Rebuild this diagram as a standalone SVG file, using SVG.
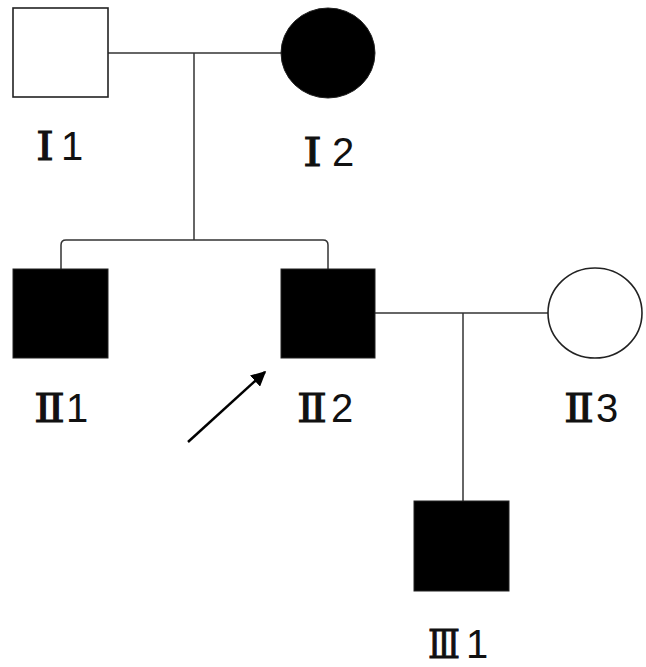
<svg xmlns="http://www.w3.org/2000/svg" width="646" height="667" viewBox="0 0 646 667">
<style>
.line{fill:none;stroke:#333;stroke-width:1.5}
.aff{fill:#000;stroke:#222;stroke-width:1}
.un{fill:#fff;stroke:#222;stroke-width:1.6}
.lbl{font-family:"Liberation Sans",Arial,sans-serif;font-size:40px;fill:#111}
.rn{font-family:"DejaVu Serif","Liberation Serif",serif;font-size:40px;fill:#111;stroke:#111;stroke-width:1}
</style>
<defs>
<marker id="ah" viewBox="0 0 10 10" refX="9" refY="5" markerWidth="6" markerHeight="6" orient="auto" markerUnits="strokeWidth">
<path d="M0,0 L10,5 L0,10 Z" fill="#000"/>
</marker>
</defs>
<rect width="646" height="667" fill="#fff"/>
<g id="connectors">
<path class="line" d="M108,53 H281"/>
<path class="line" d="M194,53 V240"/>
<path class="line" d="M61,269 V245 Q61,240 66,240 H323 Q328,240 328,245 V269"/>
<path class="line" d="M375,313 H548"/>
<path class="line" d="M463,313 V501"/>
<line x1="188" y1="442" x2="265" y2="372" stroke="#000" stroke-width="2.5" marker-end="url(#ah)"/>
</g>
<g id="I1">
<rect class="un" x="13" y="8" width="95" height="89"/>
<text class="rn" x="36" y="160" font-size="37" textLength="18" lengthAdjust="spacingAndGlyphs">Ⅰ</text>
<text class="lbl" x="61" y="160" font-size="38">1</text>
</g>
<g id="I2">
<ellipse class="aff" cx="328" cy="53" rx="47" ry="45"/>
<text class="rn" x="303" y="166" font-size="37" textLength="19" lengthAdjust="spacingAndGlyphs">Ⅰ</text>
<text class="lbl" x="332" y="166" font-size="38">2</text>
</g>
<g id="II1">
<rect class="aff" x="13" y="269" width="95" height="89"/>
<text class="rn" x="34" y="422" textLength="31" lengthAdjust="spacingAndGlyphs">Ⅱ</text>
<text class="lbl" x="66" y="422">1</text>
</g>
<g id="II2">
<rect class="aff" x="281" y="269" width="94" height="89"/>
<text class="rn" x="297" y="422" textLength="30" lengthAdjust="spacingAndGlyphs">Ⅱ</text>
<text class="lbl" x="331" y="422">2</text>
</g>
<g id="II3">
<ellipse class="un" cx="595" cy="313" rx="47" ry="45"/>
<text class="rn" x="564" y="422" textLength="30" lengthAdjust="spacingAndGlyphs">Ⅱ</text>
<text class="lbl" x="596" y="422">3</text>
</g>
<g id="III1">
<rect class="aff" x="414" y="501" width="95" height="90"/>
<text class="rn" x="428" y="658" textLength="32" lengthAdjust="spacingAndGlyphs">Ⅲ</text>
<text class="lbl" x="466" y="658">1</text>
</g>
</svg>
